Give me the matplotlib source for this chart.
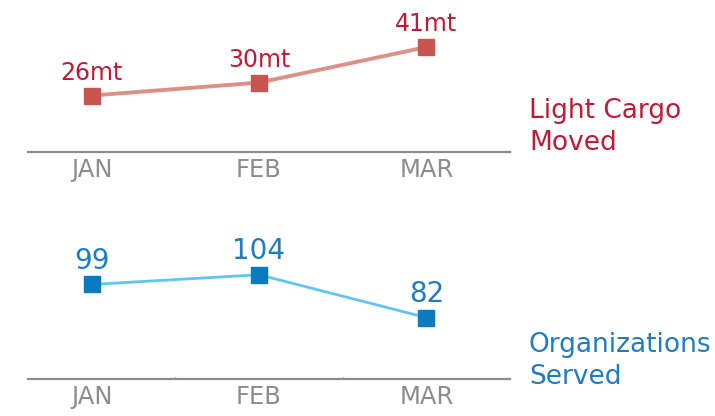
import matplotlib.pyplot as plt

# data
bulan = ['JAN', 'FEB', 'MAR']
kargo = [26, 30, 41]
organisasi = [99, 104, 82]
label_kargo = ['26mt', '30mt', '41mt']
label_org = ['99', '104', '82']

abu = '#8c8c8c'
merah_teks = '#be1a36'
merah_titik = '#c95550'
merah_garis = '#dd9186'
biru_teks = '#1f7bc2'
biru_titik = '#0a7bc1'
biru_garis = '#5ec6f0'

fig = plt.figure(figsize=(7.15, 4.16), dpi=100)
ax1 = fig.add_axes([0.0392, 1 - 152 / 416, 0.674, 132 / 416])
ax2 = fig.add_axes([0.0392, 1 - 379 / 416, 0.674, 149 / 416])

x = list(range(len(bulan)))


def rapikan(ax):
    for s in ['top', 'right', 'left']:
        ax.spines[s].set_visible(False)
    ax.spines['bottom'].set_color(abu)
    ax.spines['bottom'].set_linewidth(1.6)
    ax.set_yticks([])
    ax.set_xticks(x)
    ax.set_xticklabels(bulan)
    ax.tick_params(axis='x', length=0, pad=4, labelsize=17.5, labelcolor=abu)
    ax.set_xlim(-0.38, 2.5)
    ax.patch.set_alpha(0)


# grafik kargo
ax1.plot(x, kargo, color=merah_garis, linewidth=2.8, zorder=2)
ax1.plot(x, kargo, 's', color=merah_titik, markersize=12, zorder=3)
for xi, yi, t in zip(x, kargo, label_kargo):
    ax1.annotate(t, (xi, yi), xytext=(0, 11.5), textcoords='offset points',
                 ha='center', va='baseline', fontsize=17, color=merah_teks)
ax1.set_ylim(8.5, 49.4)
rapikan(ax1)

# grafik organisasi
ax2.plot(x, organisasi, color=biru_garis, linewidth=2, zorder=2)
ax2.plot(x, organisasi, 's', color=biru_titik, markersize=12, zorder=3)
for xi, yi, t in zip(x, organisasi, label_org):
    ax2.annotate(t, (xi, yi), xytext=(0, 11), textcoords='offset points',
                 ha='center', va='baseline', fontsize=20, color=biru_teks)
ax2.set_ylim(50.4, 127)
rapikan(ax2)
ax2.set_xticks([0.5, 1.5], minor=True)
ax2.tick_params(axis='x', which='minor', direction='in', length=1.5,
                width=1, color=abu)

fig.text(529 / 715, 1 - 127 / 416, 'Light Cargo\nMoved', ha='left', va='center',
         fontsize=19, color=merah_teks, linespacing=1.3)
fig.text(529 / 715, 1 - 361 / 416, 'Organizations\nServed', ha='left', va='center',
         fontsize=19, color=biru_teks, linespacing=1.3)

fig.savefig('out.png', dpi=100)
